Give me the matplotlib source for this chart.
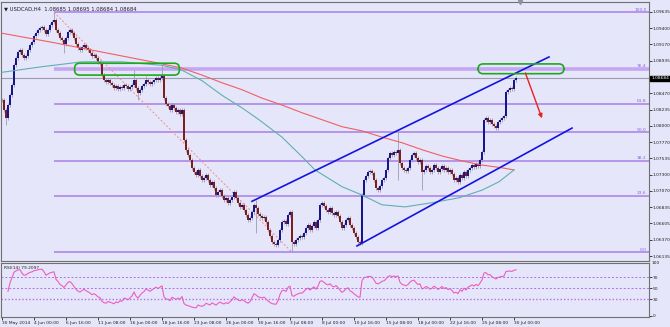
import matplotlib
matplotlib.use("Agg")
import matplotlib.pyplot as plt
from matplotlib.patches import FancyBboxPatch
from matplotlib.transforms import blended_transform_factory
import numpy as np
import pandas as pd

# USDCAD H4 closes, 30 May 2014 .. 30 Jul 2014
closes = [
    1.0837, 1.0823, 1.0812, 1.0830, 1.0844, 1.0859, 1.0887, 1.0898, 1.0906, 1.0909,
    1.0902, 1.0898, 1.0900, 1.0909, 1.0916, 1.0920, 1.0929, 1.0933, 1.0938, 1.0941,
    1.0942, 1.0938, 1.0932, 1.0938, 1.0945, 1.0949, 1.0952, 1.0938, 1.0933, 1.0926,
    1.0923, 1.0918, 1.0926, 1.0935, 1.0938, 1.0933, 1.0926, 1.0918, 1.0912, 1.0909,
    1.0913, 1.0916, 1.0912, 1.0909, 1.0905, 1.0900, 1.0902, 1.0898, 1.0892, 1.0889,
    1.0873, 1.0866, 1.0863, 1.0866, 1.0862, 1.0859, 1.0854, 1.0857, 1.0853, 1.0856,
    1.0854, 1.0859, 1.0857, 1.0853, 1.0856, 1.0859, 1.0866, 1.0854, 1.0847, 1.0852,
    1.0857, 1.0860, 1.0866, 1.0863, 1.0860, 1.0863, 1.0866, 1.0869, 1.0866, 1.0869,
    1.0872, 1.0840, 1.0832, 1.0829, 1.0823, 1.0830, 1.0826, 1.0820, 1.0823, 1.0817,
    1.0823, 1.0780, 1.0766, 1.0758, 1.0751, 1.0740, 1.0734, 1.0730, 1.0737, 1.0728,
    1.0723, 1.0725, 1.0730, 1.0723, 1.0715, 1.0720, 1.0711, 1.0701, 1.0705, 1.0708,
    1.0700, 1.0694, 1.0697, 1.0690, 1.0694, 1.0698, 1.0705, 1.0697, 1.0690, 1.0684,
    1.0687, 1.0680, 1.0672, 1.0665, 1.0668, 1.0677, 1.0687, 1.0682, 1.0674, 1.0671,
    1.0668, 1.0670, 1.0662, 1.0651, 1.0642, 1.0634, 1.0631, 1.0629, 1.0636, 1.0651,
    1.0662, 1.0664, 1.0659, 1.0672, 1.0677, 1.0634, 1.0631, 1.0636, 1.0639, 1.0642,
    1.0641, 1.0647, 1.0654, 1.0658, 1.0651, 1.0657, 1.0662, 1.0654, 1.0665, 1.0687,
    1.0690, 1.0685, 1.0680, 1.0677, 1.0682, 1.0675, 1.0672, 1.0677, 1.0671, 1.0662,
    1.0654, 1.0658, 1.0665, 1.0668, 1.0658, 1.0654, 1.0647, 1.0641, 1.0634, 1.0632,
    1.0701, 1.0723, 1.0728, 1.0734, 1.0735, 1.0733, 1.0723, 1.0711, 1.0708, 1.0714,
    1.0723, 1.0725, 1.0737, 1.0754, 1.0761, 1.0758, 1.0763, 1.0761, 1.0766, 1.0747,
    1.0740, 1.0737, 1.0735, 1.0740, 1.0751, 1.0758, 1.0761, 1.0754, 1.0748, 1.0751,
    1.0734, 1.0737, 1.0743, 1.0740, 1.0734, 1.0737, 1.0744, 1.0740, 1.0734, 1.0738,
    1.0743, 1.0737, 1.0740, 1.0734, 1.0737, 1.0731, 1.0723, 1.0725, 1.0720, 1.0730,
    1.0725, 1.0734, 1.0728, 1.0737, 1.0740, 1.0744, 1.0741, 1.0746, 1.0743, 1.0751,
    1.0763, 1.0809, 1.0812, 1.0806, 1.0809, 1.0803, 1.0800, 1.0797, 1.0806, 1.0809,
    1.0812, 1.0814, 1.0849, 1.0852, 1.0854, 1.0853, 1.0866, 1.08684,
]
# long wicks that stand out
spike_high = {26: 1.0963, 66: 1.0880, 72: 1.0872, 80: 1.0888, 127: 1.0694,
              144: 1.0680, 198: 1.0791}
spike_low = {2: 1.0801, 31: 1.0905, 68: 1.0837, 127: 1.0647, 145: 1.0619,
             198: 1.0723, 210: 1.0708}

# moving averages (bar, price) vertices
ma_red_bar = [0, 25, 50, 75, 90, 100, 110, 120, 130, 140, 150, 160, 170, 180,
              190, 200, 210, 220, 230, 240, 250, 256]
ma_red_val = [1.0933, 1.0920, 1.0906, 1.0892, 1.0883, 1.0873, 1.0862, 1.0852,
              1.0840, 1.0830, 1.0819, 1.0809, 1.0799, 1.0793, 1.0784, 1.0776,
              1.0766, 1.0757, 1.0750, 1.0744, 1.0740, 1.0737]
ma_teal_bar = [0, 20, 40, 60, 80, 90, 100, 110, 120, 128.5, 140, 150, 156.5, 170,
               180, 190, 201.5, 215, 228.5, 240, 248.5, 256]
ma_teal_val = [1.0877, 1.0885, 1.0892, 1.0892, 1.0887, 1.0880, 1.0865, 1.0844,
               1.0826, 1.0809, 1.0784, 1.0756, 1.0737, 1.0713, 1.0701, 1.0687,
               1.0684, 1.0690, 1.0697, 1.0708, 1.0720, 1.0737]

# fibonacci retracement
fib_high, fib_low = 1.0963, 1.0619
fib_high_bar, fib_low_bar = 26, 145
fib_ratios = [1.0, 0.764, 0.618, 0.5, 0.382, 0.236, 0.0]
fib_labels = ["100.0", "76.4", "61.8", "50.0", "38.2", "23.6", "0.0"]

last_price = 1.08684
price_ticks = [1.09635, 1.09400, 1.09170, 1.08935, 1.08470, 1.08235, 1.08000,
               1.07770, 1.07535, 1.07300, 1.07070, 1.06835, 1.06605, 1.06370, 1.06135]
time_labels = ["30 May 2014", "4 Jun 00:00", "6 Jun 16:00", "11 Jun 08:00",
               "16 Jun 00:00", "18 Jun 16:00", "23 Jun 08:00", "26 Jun 00:00",
               "30 Jun 16:00", "3 Jul 08:00", "8 Jul 00:00", "10 Jul 16:00",
               "15 Jul 08:00", "18 Jul 00:00", "22 Jul 16:00", "25 Jul 08:00",
               "30 Jul 00:00"]
rsi_levels = [70, 50, 30]

# drawn objects: channel, boxes, arrow
channel_upper = [(125, 1.0692), (273.5, 1.0899)]
channel_lower = [(177.5, 1.0628), (285, 1.0797)]
boxes = [(36.3, 1.0873, 52.4, 0.0017), (238, 1.0875, 43, 0.0014)]
arrow = [(261.7, 1.0876), (270, 1.0811)]

BG = "#e6e6fa"
W, H = 670, 327
WICK = 0.0003
FS = 3.2

fig = plt.figure(figsize=(W / 100, H / 100), dpi=100, facecolor=BG)
ax = fig.add_axes([0.5 / W, 1 - 261 / H, 648 / W, 259 / H], facecolor=BG)
rs = fig.add_axes([0.5 / W, 1 - 317 / H, 648 / W, 54 / H], facecolor=BG)
xmax = 323.25
for a in (ax, rs):
    a.set_xlim(-0.75, xmax)
    for s in a.spines.values():
        s.set_color("#707070"); s.set_linewidth(0.8)
ax.set_ylim(1.06064, 1.09778)

# fib lines
rng = fib_high - fib_low
for r, lab in zip(fib_ratios, fib_labels):
    lvl = fib_low + r * rng
    thick = r == 0.764
    ax.plot([fib_high_bar, xmax], [lvl, lvl], color="#c4a6f2" if thick else "#a77ee6",
            lw=2.6 if thick else 1.1, zorder=1, solid_capstyle="butt")
    ax.text(xmax - 1, lvl + 0.00008, lab, ha="right", va="bottom", fontsize=FS,
            color="#9060d8", zorder=6)
ax.plot([fib_high_bar, fib_low_bar], [fib_high, fib_low], color="#f08a8a",
        lw=0.7, ls=(0, (2, 2)), zorder=2)
ax.axhline(last_price, color="#9c9cb0", lw=0.8, zorder=1)

# candles
x = np.arange(len(closes))
c = np.array(closes)
o = np.r_[c[0], c[:-1]]
hi = np.maximum(o, c) + WICK
lo = np.minimum(o, c) - WICK
for b, v in spike_high.items():
    hi[b] = v
for b, v in spike_low.items():
    lo[b] = v
ax.vlines(x, lo, hi, color="#9c9cac", lw=0.6, zorder=3)
up = c >= o
body = np.maximum(np.abs(c - o), 0.00006)
ax.bar(x[up], body[up], bottom=np.minimum(o, c)[up], width=0.6, color="#16168a", zorder=4)
ax.bar(x[~up], body[~up], bottom=np.minimum(o, c)[~up], width=0.6, color="#7e1e1e", zorder=4)

# moving averages
ax.plot(ma_red_bar, ma_red_val, color="#f06060", lw=0.8, zorder=5)
ax.plot(ma_teal_bar, ma_teal_val, color="#5fb0b0", lw=0.8, zorder=5)

# channel, boxes, arrow
for (x0, y0), (x1, y1) in (channel_upper, channel_lower):
    ax.plot([x0, x1], [y0, y1], color="#1414e0", lw=1.2, zorder=7)
for bx, by, bw, bh in boxes:
    ax.add_patch(FancyBboxPatch((bx, by), bw, bh,
                                boxstyle="round,pad=0,rounding_size=2.6",
                                mutation_aspect=0.000287, fill=False,
                                ec="#1ea81e", lw=1.2, zorder=7))
ax.annotate("", xy=arrow[1], xytext=arrow[0],
            arrowprops=dict(arrowstyle="-|>", color="#e82020", lw=1.0,
                            mutation_scale=6, shrinkA=0, shrinkB=0), zorder=8)
ax.plot(259, 1.09778, marker="v", color="#9090a0", ms=3, clip_on=False, zorder=9)

# price axis
ax.yaxis.tick_right()
ax.set_yticks(price_ticks)
ax.set_yticklabels([f"{v:.5f}" for v in price_ticks])
ax.tick_params(axis="y", labelsize=FS, length=2, width=0.6, pad=1, colors="#202020")
ax.set_xticks([])
tr = blended_transform_factory(ax.transAxes, ax.transData)
ax.text(1.004, last_price, f"{last_price:.5f}", transform=tr, fontsize=FS,
        color="white", va="center", ha="left",
        bbox=dict(boxstyle="square,pad=0.15", fc="black", ec="black"), zorder=10)
fig.text(4 / W, 1 - 9 / H, "\u25bc USDCAD,H4  1.08685 1.08695 1.08684 1.08684",
         fontsize=3.8, color="#202020", va="center")

# RSI(14), drawn after a short warm-up
d = pd.Series(closes).diff()
gain = d.clip(lower=0).ewm(alpha=1 / 14, adjust=True).mean()
loss = (-d.clip(upper=0)).ewm(alpha=1 / 14, adjust=True).mean()
rsi = 100 - 100 / (1 + gain / loss)
rs.plot(x[3:], rsi[3:], color="#f05cc0", lw=0.8)
for lv in rsi_levels:
    rs.axhline(lv, color="#b070e0", lw=0.7 if lv != 30 else 1.0,
               ls=(0, (2, 2)) if lv != 30 else (0, (1, 1.5)))
rs.set_ylim(-2, 96)
rs.yaxis.tick_right()
rs.set_yticks([0, 30, 50, 70])
rs.tick_params(axis="y", labelsize=FS, length=2, width=0.6, pad=1, colors="#202020")
rs.text(1.004, 1.0, "100", transform=rs.transAxes, fontsize=FS, va="center",
        ha="left", color="#202020")
rs.text(3 / 648, 0.9, "RSI(14) 79.2097", transform=rs.transAxes, fontsize=FS,
        va="center", color="#202020")
rs.set_xticks(np.arange(len(time_labels)) * 16)
rs.set_xticklabels(time_labels)
rs.tick_params(axis="x", labelsize=FS, length=2, width=0.6, pad=1, colors="#202020")
for lbl in rs.get_xticklabels():
    lbl.set_horizontalalignment("left")

fig.savefig("out.png", dpi=100, facecolor=BG)
